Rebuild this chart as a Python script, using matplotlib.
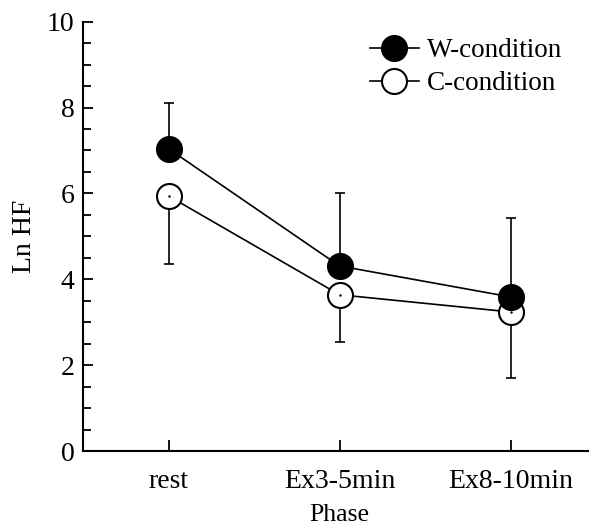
import numpy as np
import matplotlib
matplotlib.use("Agg")
import matplotlib.pyplot as plt
from matplotlib.ticker import MultipleLocator

# data
phases = ["rest", "Ex3-5min", "Ex8-10min"]
w_mean = [7.04, 4.31, 3.59]
w_upper = [8.11, 6.01, 5.43]   # top of W error bars
c_mean = [5.94, 3.64, 3.24]
c_lower = [4.36, 2.54, 1.70]   # bottom of C error bars

plt.rcParams['font.family'] = ['Liberation Serif', 'DejaVu Serif']

fig = plt.figure(figsize=(5.89, 5.27), dpi=100)
ax = fig.add_axes([0.141, 0.144, 0.871, 0.815])

x = np.arange(len(phases))
w_err = np.array(w_upper) - np.array(w_mean)
c_err = np.array(c_mean) - np.array(c_lower)

ax.errorbar(x, w_mean, yerr=[np.zeros(3), w_err], fmt='none', ecolor='black',
            elinewidth=1.2, capsize=3.5, capthick=1.2, zorder=1)
ax.errorbar(x, c_mean, yerr=[c_err, np.zeros(3)], fmt='none', ecolor='black',
            elinewidth=1.2, capsize=3.5, capthick=1.2, zorder=1)

ax.plot(x, c_mean, '-o', color='black', lw=1.2, ms=18, mfc='white', mec='black',
        mew=1.5, label='C-condition', zorder=2)
ax.plot(x, c_mean, '.', color='black', ms=1.5, zorder=4)
ax.plot(x, w_mean, '-o', color='black', lw=1.2, ms=18, mfc='black', mec='black',
        mew=1.5, label='W-condition', zorder=3)

ax.set_xlim(-0.5, 2.5)
ax.set_ylim(0, 10)
ax.set_xticks(x)
ax.set_xticklabels(phases)
ax.yaxis.set_major_locator(MultipleLocator(2))
ax.yaxis.set_minor_locator(MultipleLocator(0.5))

for s in ['top', 'right']:
    ax.spines[s].set_visible(False)
for s in ['left', 'bottom']:
    ax.spines[s].set_linewidth(1.5)

ax.tick_params(axis='both', which='both', direction='in', width=1.3, labelsize=20)
ax.tick_params(axis='y', which='major', length=7, pad=6)
ax.tick_params(axis='y', which='minor', length=6)
ax.tick_params(axis='x', which='major', length=8, pad=13)

ax.set_ylabel('Ln HF', fontsize=20, labelpad=7)
ax.set_xlabel('Phase', fontsize=18.5, labelpad=7)

handles, labels = ax.get_legend_handles_labels()
leg = ax.legend(handles[::-1][:2], ['W-condition', 'C-condition'], frameon=False,
                loc='upper left', bbox_to_anchor=(0.610, 0.948),
                bbox_transform=fig.transFigure, fontsize=19.5, handlelength=1.8,
                handletextpad=0.3, labelspacing=0.3, borderaxespad=0)

fig.savefig('out.png', dpi=100)
